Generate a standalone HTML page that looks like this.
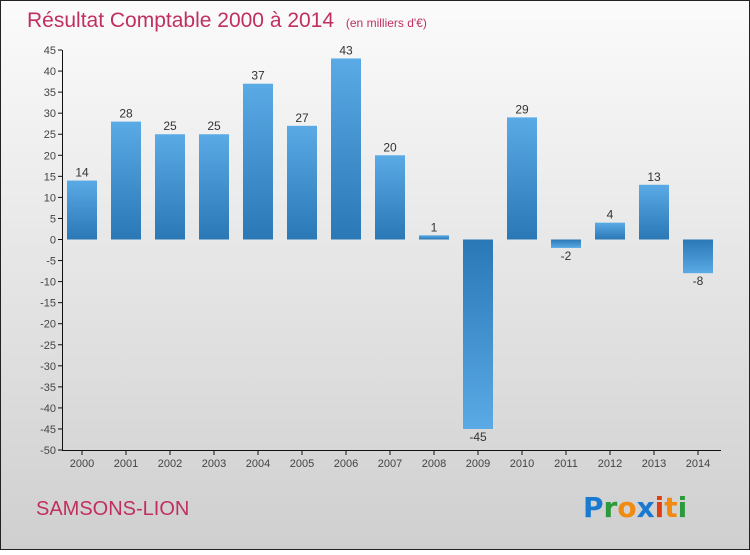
<!DOCTYPE html>
<html><head><meta charset="utf-8"><style>
body{margin:0;width:750px;height:550px;overflow:hidden;font-family:"Liberation Sans",sans-serif}
</style></head><body>
<svg id="chart" width="750" height="550">
<defs>
<linearGradient id="bg" x1="0" y1="0" x2="0" y2="1"><stop offset="0" stop-color="#fbfbfb"/><stop offset="1" stop-color="#cfcfcf"/></linearGradient>
<linearGradient id="gp" x1="0" y1="0" x2="0" y2="1"><stop offset="0" stop-color="#5aaae6"/><stop offset="1" stop-color="#2a78b6"/></linearGradient>
<linearGradient id="gn" x1="0" y1="0" x2="0" y2="1"><stop offset="0" stop-color="#2a78b6"/><stop offset="1" stop-color="#5aaae6"/></linearGradient>
</defs>
<rect x="0.5" y="0.5" width="749" height="549" fill="url(#bg)" stroke="#222"/>
<text x="27" y="27" font-size="21" fill="#c0305e">Résultat Comptable 2000 à 2014 <tspan font-size="12" dx="6">(en milliers d'€)</tspan></text>
<text x="36" y="515" font-size="20" fill="#c0305e">SAMSONS-LION</text>
<g font-size="28" font-weight="bold" font-family="'DejaVu Sans',sans-serif">
<text x="583" y="517"><tspan fill="#1a7ad0">P</tspan><tspan fill="#2a9a3a">r</tspan><tspan fill="#f08a10">o</tspan><tspan fill="#1a7ad0">x</tspan><tspan fill="#e04010">i</tspan><tspan fill="#f08a10">t</tspan><tspan fill="#2a9a3a">i</tspan></text>
</g>
<g id="axes"></g>
<g id="bars"></g>
</svg>
<script>
const years=["2000","2001","2002","2003","2004","2005","2006","2007","2008","2009","2010","2011","2012","2013","2014"];
const values=[14,28,25,25,37,27,43,20,1,-45,29,-2,4,13,-8];
const yTicks=[45,40,35,30,25,20,15,10,5,0,-5,-10,-15,-20,-25,-30,-35,-40,-45,-50];
const NS="http://www.w3.org/2000/svg";
const y=v=>239.5-v*(400/95);
const x=i=>82+i*44;
function mk(t,a,p){const e=document.createElementNS(NS,t);for(const k in a)e.setAttribute(k,a[k]);p.appendChild(e);return e;}
const ax=document.getElementById('axes'),bs=document.getElementById('bars');
const yl=mk('line',{x1:62.5,y1:50,x2:62.5,y2:450,stroke:'#111'},ax);


const xl=mk('line',{x1:62,y1:450.5,x2:721,y2:450.5,stroke:'#111'},ax);


yTicks.forEach(v=>{
 mk('line',{x1:58,x2:62,y1:y(v),y2:y(v),stroke:'#111'},ax);
 const t=mk('text',{x:56,y:y(v)+4,'text-anchor':'end','font-size':11,fill:'#444'},ax);
 t.textContent=v;
 
 
});
years.forEach((yr,i)=>{
 mk('line',{x1:x(i),x2:x(i),y1:450,y2:455,stroke:'#111'},ax);
 const t=mk('text',{x:x(i),y:467,'text-anchor':'middle','font-size':11,fill:'#444'},ax);
 t.textContent=yr;
 
 
 const v=values[i],top=Math.min(y(v),y(0)),h=Math.abs(y(v)-y(0));
 const r=mk('rect',{x:x(i)-15,y:top,width:30,height:Math.max(h,1),fill:v>=0?'url(#gp)':'url(#gn)'},bs);
 
 
 const l=mk('text',{x:x(i),y:v>=0?y(v)-4:y(v)+12,'text-anchor':'middle','font-size':12,fill:'#333'},bs);
 l.textContent=v;
 
 
});
</script>
</body></html>
